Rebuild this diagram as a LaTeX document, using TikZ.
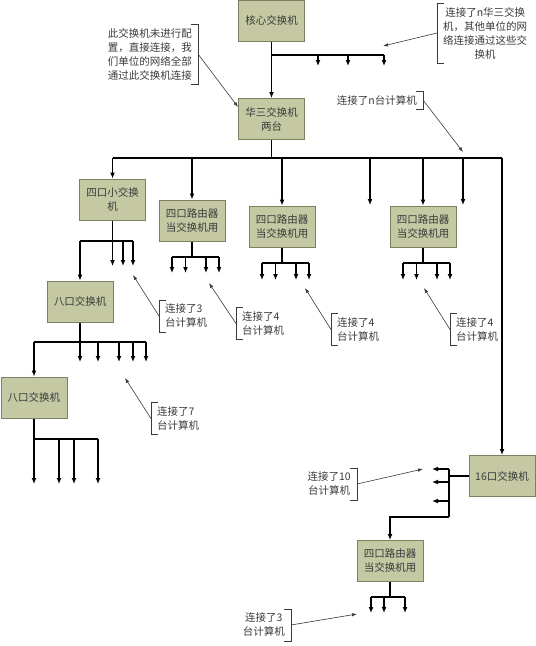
\documentclass[tikz,border=0pt]{standalone}
\usepackage{fontspec}
\setmainfont{Noto Sans CJK SC}
\usepackage{tikz}
\usetikzlibrary{arrows.meta,positioning,calc}

\definecolor{boxfill}{HTML}{C4C9A3}
\definecolor{boxline}{HTML}{7E8062}
\definecolor{txtgray}{HTML}{3A3A3A}

\tikzset{
    sw/.style={draw=boxline, fill=boxfill, line width=1pt, minimum width=66pt,
        minimum height=41pt, inner sep=0pt, align=center, text=txtgray,
        font=\fontsize{10.5}{14}\selectfont},
    note/.style={align=center, inner xsep=6pt, inner ysep=4pt, text=txtgray,
        font=\fontsize{10.5}{14}\selectfont},
    wire/.style={line width=1.3pt},
    feed/.style={wire, ->},
    brk/.style={line width=0.6pt, draw=txtgray},
    ptr/.style={line width=0.6pt, draw=txtgray, -{Latex[length=5pt,width=3.5pt]}}
}

\begin{document}
\begin{tikzpicture}[x=1pt, y=-1pt, >={Latex[length=6pt,width=5pt]}]
    \useasboundingbox (0,0) rectangle (536,646);

    % switches
    \node[sw] (core) at (271.5,20.5) {核心交换机};
    \node[sw] (h3c)  at (271.5,119) {华三交换机\\两台};
    \node[sw] (s4)   at (112.5,199.5) {四口小交换\\机};
    \node[sw] (r1)   at (192,220.5) {四口路由器\\当交换机用};
    \node[sw] (r2)   at (282,226.5) {四口路由器\\当交换机用};
    \node[sw] (r3)   at (423,226.5) {四口路由器\\当交换机用};
    \node[sw] (s8a)  at (80,301.5) {八口交换机};
    \node[sw] (s8b)  at (34,397.5) {八口交换机};
    \node[sw] (s16)  at (502,476) {16口交换机};
    \node[sw] (r4)   at (390,561) {四口路由器\\当交换机用};

    % core switch
    \draw[feed] (core) -- (h3c);
    \coordinate (cj) at (271.5,55);
    \coordinate (c1) at (318,66);
    \coordinate (c2) at (348,66);
    \coordinate (c3) at (384,66);
    \draw[wire] (cj) -- (c3 |- cj);
    \draw[feed] (c1 |- cj) -- (c1);
    \draw[feed] (c2 |- cj) -- (c2);
    \draw[feed] (c3 |- cj) -- (c3);

    % main bus
    \coordinate (hub) at (271.5,158);
    \coordinate (p1) at (370,205);
    \coordinate (p2) at (463,205);
    \draw[wire] (h3c) -- (hub);
    \draw[wire] (s4.north |- hub) -- (s16.north |- hub);
    \draw[feed] (s4.north |- hub) -- (s4);
    \draw[feed] (r1.north |- hub) -- (r1);
    \draw[feed] (r2.north |- hub) -- (r2);
    \draw[feed] (r3.north |- hub) -- (r3);
    \draw[feed] (p1 |- hub) -- (p1);
    \draw[feed] (p2 |- hub) -- (p2);
    \draw[feed] (s16.north |- hub) -- (s16);

    % four port switch
    \coordinate (s4j) at (112.5,241);
    \coordinate (a1) at (112.5,266);
    \coordinate (a2) at (123,266);
    \coordinate (a3) at (133,266);
    \draw[wire] (s8a.north |- s4j) -- (a3 |- s4j);
    \draw[feed] (s4) -- (a1);
    \draw[feed] (a2 |- s4j) -- (a2);
    \draw[feed] (a3 |- s4j) -- (a3);
    \draw[feed] (s8a.north |- s4j) -- (s8a);

    % routers
    \coordinate (r1j) at (192,257);
    \draw[wire] (r1) -- (r1j);
    \draw[wire] ([xshift=-20pt]r1j) -- ([xshift=27pt]r1j);
    \draw[feed] ([xshift=-20pt]r1j) -- ++(0,16);
    \draw[feed] ([xshift=-6.5pt]r1j) -- ++(0,16);
    \draw[feed] ([xshift=14pt]r1j) -- ++(0,16);
    \draw[feed] ([xshift=27pt]r1j) -- ++(0,16);

    \coordinate (r2j) at (282,263);
    \draw[wire] (r2) -- (r2j);
    \draw[wire] ([xshift=-20pt]r2j) -- ([xshift=27pt]r2j);
    \draw[feed] ([xshift=-20pt]r2j) -- ++(0,17);
    \draw[feed] ([xshift=-6.5pt]r2j) -- ++(0,17);
    \draw[feed] ([xshift=14pt]r2j) -- ++(0,17);
    \draw[feed] ([xshift=27pt]r2j) -- ++(0,17);

    \coordinate (r3j) at (423,263);
    \draw[wire] (r3) -- (r3j);
    \draw[wire] ([xshift=-20pt]r3j) -- ([xshift=27pt]r3j);
    \draw[feed] ([xshift=-20pt]r3j) -- ++(0,17);
    \draw[feed] ([xshift=-6.5pt]r3j) -- ++(0,17);
    \draw[feed] ([xshift=14pt]r3j) -- ++(0,17);
    \draw[feed] ([xshift=27pt]r3j) -- ++(0,17);

    % eight port switches
    \coordinate (s8aj) at (80,342);
    \draw[wire] (s8a) -- (s8aj);
    \draw[wire] (s8b.north |- s8aj) -- (146,342);
    \draw[feed] (s8b.north |- s8aj) -- (s8b);
    \draw[feed] (s8aj) -- ++(0,20);
    \draw[feed] ([xshift=18pt]s8aj) -- ++(0,20);
    \draw[feed] ([xshift=39pt]s8aj) -- ++(0,20);
    \draw[feed] ([xshift=53pt]s8aj) -- ++(0,20);
    \draw[feed] ([xshift=66pt]s8aj) -- ++(0,20);

    \coordinate (s8bj) at (34,439);
    \draw[wire] (s8b) -- (s8bj);
    \draw[wire] (s8bj) -- ([xshift=64pt]s8bj);
    \draw[feed] (s8bj) -- ++(0,45);
    \draw[feed] ([xshift=25pt]s8bj) -- ++(0,45);
    \draw[feed] ([xshift=40pt]s8bj) -- ++(0,45);
    \draw[feed] ([xshift=64pt]s8bj) -- ++(0,45);

    % sixteen port switch
    \coordinate (q0) at (449,476);
    \coordinate (q1) at (449,517);
    \coordinate (e1) at (432,469);
    \coordinate (e2) at (432,482);
    \coordinate (e3) at (432,501);
    \draw[wire] (s16) -- (q0);
    \draw[wire] (e1 -| q0) -- (q1);
    \draw[feed] (e1 -| q0) -- (e1);
    \draw[feed] (e2 -| q0) -- (e2);
    \draw[feed] (e3 -| q0) -- (e3);
    \draw[feed] (q1) -| (r4);

    \coordinate (r4j) at (390,597);
    \draw[wire] (r4) -- (r4j);
    \draw[wire] ([xshift=-19pt]r4j) -- ([xshift=15pt]r4j);
    \draw[feed] ([xshift=-19pt]r4j) -- ++(0,16);
    \draw[feed] ([xshift=-6pt]r4j) -- ++(0,16);
    \draw[feed] ([xshift=15pt]r4j) -- ++(0,16);

    % notes
    \node[note, anchor=west] (nN) at (437,33) {连接了n华三交换\\机，其他单位的网\\络连接通过这些交\\换机};
    \node[note, anchor=east] (nL) at (198,54) {此交换机未进行配\\置，直接连接，我\\们单位的网络全部\\通过此交换机连接};
    \node[note, anchor=east] (nPC) at (423,100) {连接了n台计算机};
    \node[note, anchor=west, align=left] (n3) at (159,316) {连接了3\\台计算机};
    \node[note, anchor=west, align=left] (n4a) at (236,323.5) {连接了4\\台计算机};
    \node[note, anchor=west, align=left] (n4b) at (331,329.5) {连接了4\\台计算机};
    \node[note, anchor=west, align=left] (n4c) at (450,329.5) {连接了4\\台计算机};
    \node[note, anchor=west, align=left] (n7) at (151,418.5) {连接了7\\台计算机};
    \node[note, anchor=east] (n10) at (357,484) {连接了10\\台计算机};
    \node[note, anchor=east] (n3b) at (291,625) {连接了3\\台计算机};

    % brackets
    \draw[brk] ([xshift=7pt]nN.north west) -- (nN.north west) -- (nN.south west) -- ([xshift=7pt]nN.south west);
    \draw[brk] ([xshift=-7pt]nL.north east) -- (nL.north east) -- (nL.south east) -- ([xshift=-7pt]nL.south east);
    \draw[brk] ([xshift=-7pt]nPC.north east) -- (nPC.north east) -- (nPC.south east) -- ([xshift=-7pt]nPC.south east);
    \draw[brk] ([xshift=7pt]n3.north west) -- (n3.north west) -- (n3.south west) -- ([xshift=7pt]n3.south west);
    \draw[brk] ([xshift=7pt]n4a.north west) -- (n4a.north west) -- (n4a.south west) -- ([xshift=7pt]n4a.south west);
    \draw[brk] ([xshift=7pt]n4b.north west) -- (n4b.north west) -- (n4b.south west) -- ([xshift=7pt]n4b.south west);
    \draw[brk] ([xshift=7pt]n4c.north west) -- (n4c.north west) -- (n4c.south west) -- ([xshift=7pt]n4c.south west);
    \draw[brk] ([xshift=7pt]n7.north west) -- (n7.north west) -- (n7.south west) -- ([xshift=7pt]n7.south west);
    \draw[brk] ([xshift=-7pt]n10.north east) -- (n10.north east) -- (n10.south east) -- ([xshift=-7pt]n10.south east);
    \draw[brk] ([xshift=-7pt]n3b.north east) -- (n3b.north east) -- (n3b.south east) -- ([xshift=-7pt]n3b.south east);

    % pointers
    \draw[ptr] (nN.west) -- (383,46);
    \draw[ptr] (nL.east) -- (238,107);
    \draw[ptr] (nPC.east) -- (463,152);
    \draw[ptr] (n3.west) -- (133,275);
    \draw[ptr] (n4a.west) -- (209,283);
    \draw[ptr] (n4b.west) -- (305,288);
    \draw[ptr] (n4c.west) -- (424,288);
    \draw[ptr] (n7.west) -- (125,378);
    \draw[ptr] (n10.east) -- (423,469);
    \draw[ptr] (n3b.east) -- (357,614);
\end{tikzpicture}
\end{document}
